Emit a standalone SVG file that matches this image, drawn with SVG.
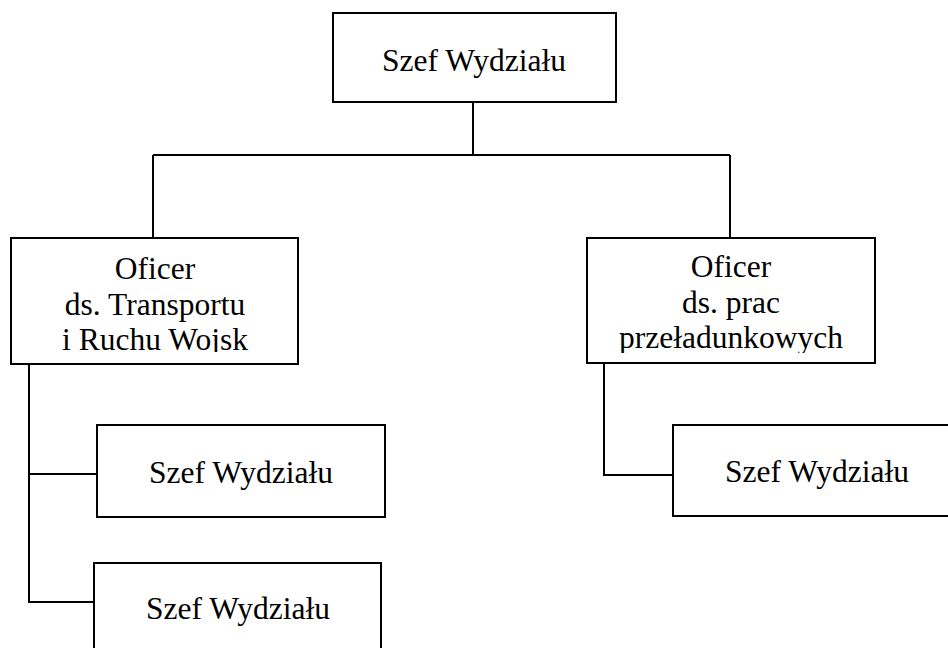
<svg xmlns="http://www.w3.org/2000/svg" width="948" height="648" viewBox="0 0 948 648">
  <style>
    .box { fill: #ffffff; stroke: #000000; stroke-width: 2; }
    .lbl { font-family: "Liberation Serif", "Times New Roman", serif; font-size: 31.5px; fill: #000000; text-anchor: middle; }
    .wire { fill: none; stroke: #000000; stroke-width: 2; }
  </style>
  <defs>
    <!-- the last line of the two officer boxes is cut off at the descenders -->
    <clipPath id="clipLeft"><rect x="12" y="239" width="285" height="113"/></clipPath>
    <clipPath id="clipRight"><rect x="588" y="239" width="286" height="114"/></clipPath>
  </defs>

  <rect width="948" height="648" fill="#ffffff"/>

  <g id="connectors">
    <path class="wire" d="M473 102 V155"/>
    <path class="wire" d="M153 155 H730"/>
    <path class="wire" d="M153 155 V238"/>
    <path class="wire" d="M730 155 V238"/>
    <path class="wire" d="M29 364 V602 H94"/>
    <path class="wire" d="M29 474 H97"/>
    <path class="wire" d="M604 363 V475 H673"/>
  </g>

  <g id="head">
    <rect class="box" x="333" y="13" width="283" height="89"/>
    <text class="lbl" x="474" y="71">Szef Wydziału</text>
  </g>

  <g id="officer-transport">
    <rect class="box" x="11" y="238" width="287" height="126"/>
    <g clip-path="url(#clipLeft)">
      <text class="lbl" x="155" y="279">Oficer</text>
      <text class="lbl" x="155" y="315">ds. Transportu</text>
      <text class="lbl" x="155" y="350">i Ruchu Wojsk</text>
    </g>
  </g>

  <g id="officer-handling">
    <rect class="box" x="587" y="238" width="288" height="125"/>
    <g clip-path="url(#clipRight)">
      <text class="lbl" x="731" y="277">Oficer</text>
      <text class="lbl" x="731" y="313">ds. prac</text>
      <text class="lbl" x="731" y="348">przeładunkowych</text>
    </g>
  </g>

  <g id="sub-left-1">
    <rect class="box" x="97" y="425" width="288" height="92"/>
    <text class="lbl" x="241" y="483">Szef Wydziału</text>
  </g>

  <g id="sub-left-2">
    <rect class="box" x="94" y="563" width="287" height="92"/>
    <text class="lbl" x="238" y="619">Szef Wydziału</text>
  </g>

  <g id="sub-right">
    <rect class="box" x="673" y="425" width="289" height="91"/>
    <text class="lbl" x="817" y="482">Szef Wydziału</text>
  </g>
</svg>
